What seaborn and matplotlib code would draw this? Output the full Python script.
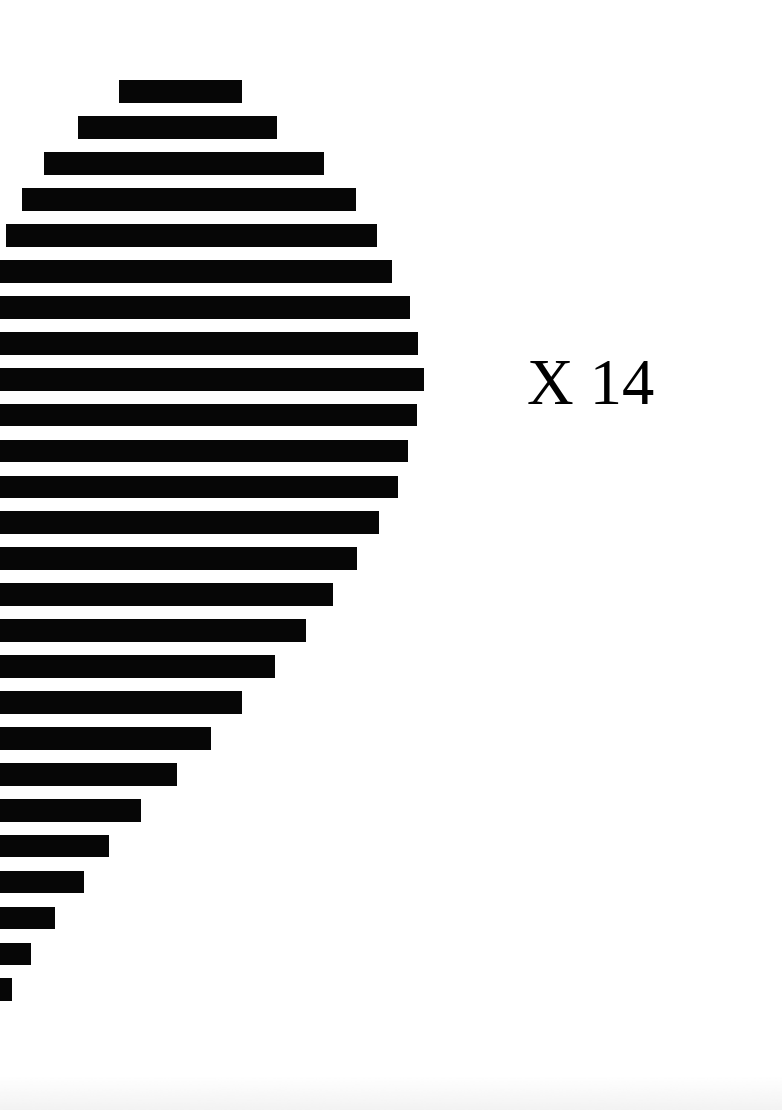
import numpy as np
import pandas as pd
import matplotlib
matplotlib.use("Agg")
import matplotlib.pyplot as plt
import seaborn as sns

# --- data ---
rows = [f"r{i+1}" for i in range(26)]
starts = [119, 78, 44, 22, 6, 0, 0, 0, 0, 0, 0, 0, 0,
          0, 0, 0, 0, 0, 0, 0, 0, 0, 0, 0, 0, 0]
ends = [242, 277, 324, 356, 377, 392, 410, 418, 424, 417, 408, 398, 379,
        357, 333, 306, 275, 242, 211, 177, 141, 109, 84, 55, 31, 12]
label_text = "X 14"

df = pd.DataFrame({"row": rows, "start": starts, "end": ends})
df["length"] = df["end"] - df["start"]

sns.set_theme(style="white")
fig = plt.figure(figsize=(7.82, 11.10), dpi=100)
fig.patch.set_facecolor("white")
ax = fig.add_axes([0, 0, 1, 1])
sns.barplot(data=df, x="length", y="row", orient="h", color="#060606",
            saturation=1, width=0.632, left=df["start"].to_numpy(),
            edgecolor="none", linewidth=0, ax=ax)
ax.set_xlim(0, 782)
ax.set_ylim(28.347, -2.556)
ax.set_axis_off()

# faint gray band at the bottom
gax = fig.add_axes([0, 0, 1, 35 / 1110])
grad = np.linspace(1.0, 0.95, 64).reshape(-1, 1)
gax.imshow(np.repeat(grad, 2, axis=1), cmap="gray", vmin=0, vmax=1,
           aspect="auto", extent=[0, 1, 0, 1], origin="upper")
gax.set_axis_off()

fig.text(591 / 782, 1 - 404.3 / 1110, label_text, ha="center", va="baseline",
         fontsize=46.5, family=["Liberation Serif", "DejaVu Serif"], color="#000000")

fig.savefig("out.png", dpi=100, facecolor="white")
